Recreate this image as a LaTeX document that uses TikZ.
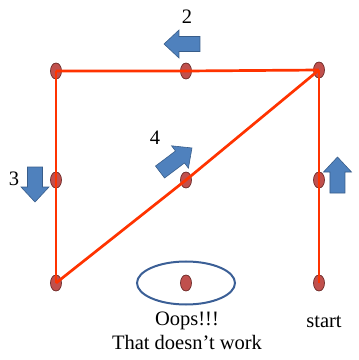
\documentclass[tikz,border=0pt]{standalone}
\usepackage{fontspec}
\setmainfont{Liberation Serif}
\definecolor{routered}{HTML}{FF3300}
\definecolor{dotred}{HTML}{C0504D}
\definecolor{dotedge}{HTML}{6B2A28}
\definecolor{arrowblue}{HTML}{4F81BD}
\definecolor{arrowedge}{HTML}{385D8A}
\definecolor{ringblue}{HTML}{3B5F96}
\tikzset{
  dot/.style={ellipse, draw=dotedge, fill=dotred, line width=0.7pt, minimum width=11pt, minimum height=16pt, inner sep=0pt},
  route/.style={draw=routered, line width=2.7pt},
  blockarrow/.style={fill=arrowblue, draw=arrowedge, line width=0.6pt},
  lbl/.style={font=\fontsize{20.5}{22}\selectfont, inner sep=0pt}
}
\newcommand{\barrow}[4]{% center x, center y, angle, length
  \begin{scope}[shift={(#1,#2)}, rotate=#3]
    \draw[blockarrow] (-#4/2,-7.5) -- (#4/2-15,-7.5) -- (#4/2-15,-14) -- (#4/2,0) -- (#4/2-15,14) -- (#4/2-15,7.5) -- (-#4/2,7.5) -- cycle;
  \end{scope}}
\usetikzlibrary{shapes.geometric}
\begin{document}
\begin{tikzpicture}[x=1pt,y=1pt]
\useasboundingbox (0,0) rectangle (359,360);
% dots
\node[dot] (tl) at (56,289) {};
\node[dot] (tm) at (186,289) {};
\node[dot] (tr) at (319,290) {};
\node[dot] (ml) at (56,180) {};
\node[dot] (mm) at (186,180) {};
\node[dot] (mr) at (319,180) {};
\node[dot] (bl) at (56,77) {};
\node[dot] (bm) at (186,77) {};
\node[dot] (br) at (319,77) {};
% ring around the unreachable dot
\draw[ringblue, line width=2pt] (bm.center) ellipse [x radius=49, y radius=21.5];
% route
\draw[route] (br.center) -- (mr.center) -- (tr.center);
\draw[route] (tr.center) -- (tm.center) -- (tl.center);
\draw[route] (tl.center) -- (ml.center) -- (bl.center);
\draw[route] (bl.center) -- (mm.center) -- (tr.center);
% arrows
\barrow{182}{316}{180}{36}
\barrow{35}{175.5}{-90}{35}
\barrow{337.5}{185}{90}{36}
\barrow{176}{200}{37}{40}
% labels
\node[lbl] (n2) at (187,343) {2};
\node[lbl] (n3) at (14,181) {3};
\node[lbl] (n4) at (155,222) {4};
\node[lbl] (st) at (324,38) {start};
\node[lbl] (oops) at (187,39) {Oops!!!};
\node[lbl] (nw) at (187,18) {That doesn’t work};
\end{tikzpicture}
\end{document}
